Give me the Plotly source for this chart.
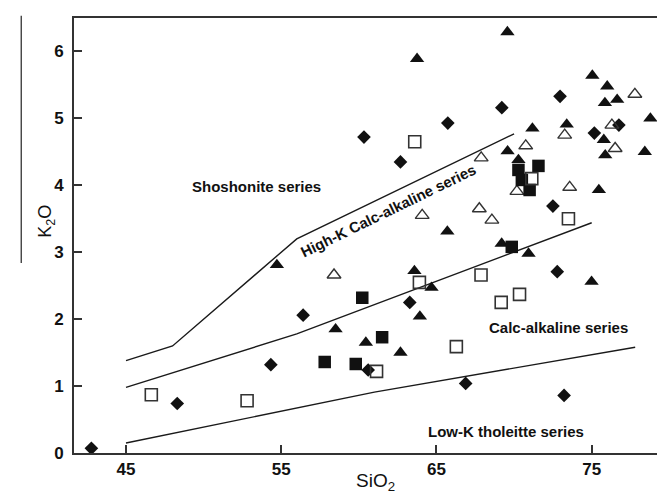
import plotly.graph_objects as go

# ---- data (SiO2, K2O) ----
diamond_x = [42.77, 48.3, 54.33, 56.41, 60.6, 60.33, 62.68, 63.28, 65.73, 66.88, 69.21, 72.5, 72.78, 72.96, 73.22, 75.17, 76.75]
diamond_y = [0.07, 0.74, 1.32, 2.06, 1.24, 4.72, 4.35, 2.25, 4.93, 1.04, 5.16, 3.69, 2.71, 5.33, 0.86, 4.78, 4.90]

tri_fill_x = [54.72, 58.5, 60.45, 62.68, 63.58, 63.93, 64.68, 63.75, 65.7, 69.2, 69.57, 69.58, 70.28, 70.93, 71.18, 73.39, 74.99, 75.04, 75.46, 75.78, 75.85, 75.87, 76.0, 76.64, 78.42, 78.78]
tri_fill_y = [2.81, 1.85, 1.65, 1.50, 2.72, 2.04, 2.47, 5.89, 3.31, 3.13, 6.29, 4.51, 4.38, 2.98, 4.85, 4.91, 2.56, 5.64, 3.93, 4.68, 5.23, 4.45, 5.48, 5.28, 4.50, 5.00]

tri_open_x = [58.4, 64.08, 67.76, 67.88, 68.57, 70.18, 70.75, 73.26, 73.58, 76.3, 76.51, 77.78]
tri_open_y = [2.66, 3.55, 3.65, 4.41, 3.48, 3.91, 4.59, 4.75, 3.97, 4.90, 4.55, 5.36]

sq_fill_x = [57.8, 59.8, 60.22, 61.5, 69.85, 70.28, 70.5, 71.0, 71.57]
sq_fill_y = [1.36, 1.33, 2.32, 1.73, 3.08, 4.23, 4.08, 3.93, 4.29]

sq_open_x = [46.63, 52.8, 61.14, 63.6, 63.9, 66.28, 67.87, 69.17, 70.35, 71.14, 73.5]
sq_open_y = [0.87, 0.78, 1.22, 4.65, 2.55, 1.59, 2.66, 2.25, 2.37, 4.10, 3.50]

# boundary lines
shosh_x = [45.0, 48.0, 56.0, 70.0]
shosh_y = [1.38, 1.60, 3.20, 4.77]
hk_x = [45.0, 56.0, 75.0]
hk_y = [0.98, 1.78, 3.44]
lowk_x = [45.0, 61.0, 77.8]
lowk_y = [0.15, 0.91, 1.58]

x_ticks = [45, 55, 65, 75]
y_ticks = [0, 1, 2, 3, 4, 5, 6]

FONT = "Liberation Sans, Arial, sans-serif"
INK = "#111111"

fig = go.Figure()
for lx, ly in [(shosh_x, shosh_y), (hk_x, hk_y), (lowk_x, lowk_y)]:
    fig.add_trace(go.Scatter(x=lx, y=ly, mode="lines",
                             line=dict(color="#1a1a1a", width=1.4), hoverinfo="skip"))

fig.add_trace(go.Scatter(x=diamond_x, y=diamond_y, mode="markers",
                         marker=dict(symbol="diamond", size=10.5, color=INK, line=dict(width=0))))
fig.add_trace(go.Scatter(x=tri_fill_x, y=tri_fill_y, mode="markers",
                         marker=dict(symbol="triangle-up", size=12.5, color=INK, line=dict(width=0))))
fig.add_trace(go.Scatter(x=tri_open_x, y=tri_open_y, mode="markers",
                         marker=dict(symbol="triangle-up-open", size=12, color="#333333", line=dict(width=1.4))))
fig.add_trace(go.Scatter(x=sq_fill_x, y=sq_fill_y, mode="markers",
                         marker=dict(symbol="square", size=12.5, color=INK, line=dict(width=0))))
fig.add_trace(go.Scatter(x=sq_open_x, y=sq_open_y, mode="markers",
                         marker=dict(symbol="square-open", size=12, color="#333333", line=dict(width=1.6))))

lab_font = dict(family=FONT, size=15, color=INK, weight="bold")
fig.add_annotation(x=53.4, y=3.98, text="Shoshonite series", showarrow=False, font=lab_font)
fig.add_annotation(x=61.9, y=3.62, text="High-K Calc-alkaline series", showarrow=False,
                   textangle=-26, font=lab_font)
fig.add_annotation(x=72.85, y=1.88, text="Calc-alkaline series", showarrow=False, font=lab_font)
fig.add_annotation(x=69.47, y=0.32, text="Low-K tholeitte series", showarrow=False, font=lab_font)

# axis titles
fig.add_annotation(xref="paper", yref="paper", x=-0.069, y=0.533, text="K<sub>2</sub>O",
                   showarrow=False, textangle=-90, font=dict(family=FONT, size=18, color=INK))
fig.add_annotation(xref="paper", yref="paper", x=0.508, y=-0.098, text="SiO<sub>2</sub>",
                   showarrow=False, font=dict(family=FONT, size=19, color=INK))

# stray vertical rule left of K2O label
fig.add_shape(type="line", xref="paper", yref="paper", x0=-0.089, x1=-0.089, y0=0.437, y1=1.005,
              line=dict(color="#222222", width=1.2))

axis_common = dict(showgrid=False, zeroline=False, showline=True, linecolor="#333333", linewidth=1.8,
                   mirror=True, ticks="inside", ticklen=8, tickwidth=1.5, tickcolor="#333333",
                   tickfont=dict(family=FONT, size=17, color=INK, weight="bold"))
fig.update_xaxes(range=[41.65, 79.85], tickvals=x_ticks, **axis_common)
fig.update_yaxes(range=[0, 6.5], tickvals=y_ticks, ticklabelstandoff=5, **axis_common)

fig.update_layout(width=665, height=498, margin=dict(l=66, r=4, t=10, b=53),
                  plot_bgcolor="white", paper_bgcolor="white", showlegend=False)

fig.write_html("out.html")
